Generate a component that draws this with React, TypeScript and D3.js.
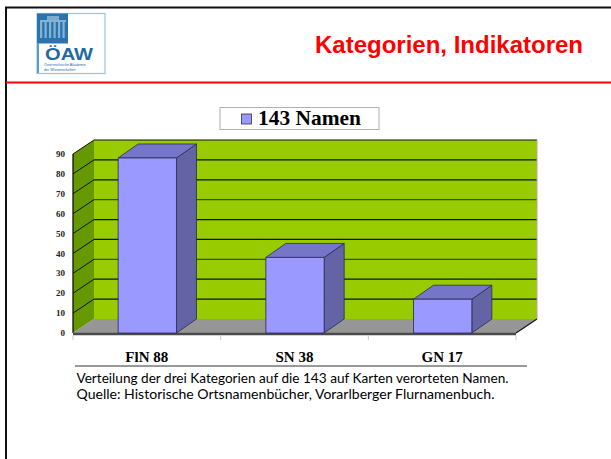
import React from "react";
import * as d3 from "d3";

const categories = ["FlN 88", "SN 38", "GN 17"];
const values = [88, 38, 17];
const yTicks = [0, 10, 20, 30, 40, 50, 60, 70, 80, 90];
const legendLabel = "143 Namen";
const title = "Kategorien, Indikatoren";
const captionLines = [
  "Verteilung der drei Kategorien auf die 143 auf Karten verorteten Namen.",
  "Quelle: Historische Ortsnamenbücher, Vorarlberger Flurnamenbuch.",
];

const W = 611;
const H = 459;

export default function App() {
  const x = d3.scaleBand<string>().domain(categories).range([73, 516]);
  const y = d3.scaleLinear().domain([0, 90]).range([333, 154]);
  const WDX = 21, WDY = -14; // wall depth
  const BDX = 20, BDY = -14; // bar depth
  const bw = x.bandwidth();
  const barW = bw * 0.395;
  const x0 = 73, x1 = 516;
  const y0 = y(0), yTop = y(90);
  const pts = (a: number[][]) => a.map((p) => p.join(",")).join(" ");

  return (
    <svg width={W} height={H} style={{ position: "absolute", left: 0, top: 0, background: "#fff" }}>
      {/* slide frame */}
      <line x1={5} y1={7.5} x2={W} y2={7.5} stroke="#111" strokeWidth={2} />
      <line x1={6} y1={7} x2={6} y2={H} stroke="#111" strokeWidth={2} />
      <line x1={6} y1={82.5} x2={W} y2={82.5} stroke="#ff0000" strokeWidth={2} />

      {/* logo */}
      <g>
        <rect x={37} y={13.5} width={68} height={60} fill="#fff" stroke="#9cc3e0" strokeWidth={1.2} />
        <rect x={37} y={13.5} width={31} height={30} fill="#2a73ad" />
        <rect x={37} y={43} width={2} height={30} fill="#5b9bcb" />
        {[0, 1, 2, 3, 4, 5].map((i) => (
          <rect key={i} x={40 + i * 4.5} y={22} width={2.2} height={16} fill="#9cc3e0" opacity={0.8} />
        ))}
        <rect x={40} y={20} width={26} height={2} fill="#9cc3e0" opacity={0.8} />
        <rect x={47} y={16} width={12} height={4} fill="#9cc3e0" opacity={0.7} />
        <text x={45} y={60} fontFamily="Liberation Sans, Arial, sans-serif" fontWeight="bold" fontSize={17} fill="#1f6aa5" textLength={48} lengthAdjust="spacingAndGlyphs">ÖAW</text>
        <text x={44} y={66} fontFamily="Liberation Sans, Arial, sans-serif" fontSize={3.6} fill="#1f6aa5">Österreichische Akademie</text>
        <text x={44} y={71} fontFamily="Liberation Sans, Arial, sans-serif" fontSize={3.6} fill="#1f6aa5">der Wissenschaften</text>
      </g>

      {/* title */}
      <text x={315} y={53} fontFamily="Liberation Sans, Arial, sans-serif" fontWeight="bold" fontSize={24} fill="#ff0000" textLength={268} lengthAdjust="spacingAndGlyphs">{title}</text>

      {/* legend */}
      <rect x={220} y={107.5} width={159} height={22} fill="#fff" stroke="#b0b0b0" strokeWidth={1} />
      <rect x={241.5} y={114} width={10} height={10} fill="#9999ff" stroke="#333" strokeWidth={0.8} />
      <text x={258} y={125} fontFamily="Liberation Serif, Times New Roman, serif" fontWeight="bold" fontSize={21} fill="#000" textLength={103} lengthAdjust="spacingAndGlyphs">{legendLabel}</text>

      {/* back wall */}
      <rect x={x0 + WDX} y={yTop + WDY} width={x1 - x0} height={y0 - yTop} fill="#99cc00" />
      {yTicks.filter((t) => t > 0 && t < 90).map((t) => (
        <line key={"bg" + t} x1={x0 + WDX} x2={x1 + WDX} y1={y(t) + WDY} y2={y(t) + WDY} stroke={t % 30 === 0 ? "#3d5200" : "#111"} strokeWidth={1.2} />
      ))}
      <line x1={x0 + WDX} x2={x1 + WDX} y1={yTop + WDY} y2={yTop + WDY} stroke="#111" strokeWidth={1.2} />
      <line x1={x1 + WDX} x2={x1 + WDX} y1={yTop + WDY} y2={y0 + WDY} stroke="#aaa" strokeWidth={1} />

      {/* side wall */}
      <polygon points={pts([[x0, y0], [x0, yTop], [x0 + WDX, yTop + WDY], [x0 + WDX, y0 + WDY]])} fill="#669900" />
      {yTicks.filter((t) => t > 0).map((t) => (
        <line key={"sg" + t} x1={x0} y1={y(t)} x2={x0 + WDX} y2={y(t) + WDY} stroke="#111" strokeWidth={1} />
      ))}
      <line x1={x0} y1={y0} x2={x0} y2={yTop} stroke="#111" strokeWidth={1.3} />

      {/* floor */}
      <polygon points={pts([[x0, y0], [x1, y0], [x1 + WDX, y0 + WDY], [x0 + WDX, y0 + WDY]])} fill="#969696" />
      <line x1={x1} y1={y0} x2={x1 + WDX} y2={y0 + WDY} stroke="#111" strokeWidth={1.2} />
      <line x1={x0} y1={y0 + 1} x2={x1} y2={y0 + 1} stroke="#4a4a4a" strokeWidth={2.5} />

      {/* y tick labels */}
      {yTicks.map((t) => (
        <text key={"yl" + t} x={65} y={y(t)} dy="0.35em" textAnchor="end" fontFamily="Liberation Serif, Times New Roman, serif" fontWeight="bold" fontSize={9} fill="#222">{t}</text>
      ))}

      {/* category ticks */}
      {[...categories.map((c) => x(c) as number), x1].map((v, i) => (
        <line key={"ct" + i} x1={v} x2={v} y1={y0 + 2.5} y2={y0 + 7} stroke="#c8c8c8" strokeWidth={1} />
      ))}

      {/* bars */}
      {categories.map((c, i) => {
        const v = values[i];
        const bx = (x(c) as number) + (bw - barW) / 2 + 0.5;
        const by = y(v);
        return (
          <g key={c} stroke="#2a2a55" strokeWidth={0.8} strokeLinejoin="round">
            <polygon points={pts([[bx + barW, by], [bx + barW + BDX, by + BDY], [bx + barW + BDX, y0 + BDY], [bx + barW, y0]])} fill="#6363a6" />
            <polygon points={pts([[bx, by], [bx + barW, by], [bx + barW + BDX, by + BDY], [bx + BDX, by + BDY]])} fill="#7676c8" />
            <rect x={bx} y={by} width={barW} height={y0 - by} fill="#9999ff" />
          </g>
        );
      })}

      {/* category labels */}
      {categories.map((c) => (
        <text key={"cl" + c} x={(x(c) as number) + bw / 2} y={361.5} textAnchor="middle" fontFamily="Liberation Serif, Times New Roman, serif" fontWeight="bold" fontSize={15} fill="#000">{c}</text>
      ))}
      <line x1={75} x2={527} y1={366} y2={366} stroke="#333" strokeWidth={1} />

      {/* caption */}
      {captionLines.map((l, i) => (
        <text key={"cap" + i} x={76.5} y={383 + i * 15.5} fontFamily="Lato, Open Sans, sans-serif" fontSize={13.5} fill="#000" textLength={i === 0 ? 432 : 418} lengthAdjust="spacingAndGlyphs">{l}</text>
      ))}
    </svg>
  );
}
